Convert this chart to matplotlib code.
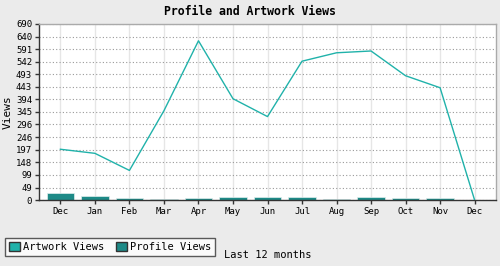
import matplotlib
matplotlib.use("Agg")
import numpy as np
from matplotlib import pyplot as plt
from matplotlib.patches import Patch

months = ["Dec", "Jan", "Feb", "Mar", "Apr", "May", "Jun",
          "Jul", "Aug", "Sep", "Oct", "Nov", "Dec"]
artwork_views = [199, 183, 116, 350, 624, 397, 327, 544, 577, 584, 487, 440, 0]
profile_views = [26, 17, 9, 5, 9, 13, 13, 13, 4, 13, 9, 9, 0]
y_ticks = [0, 49, 99, 148, 197, 246, 296, 345, 394, 443, 493, 542, 591, 640, 690]

line_color = "#20b2aa"
bar_color = "#1e8a87"
bg = "#ebebeb"

plt.rcParams["font.family"] = "DejaVu Sans Mono"

fig = plt.figure(figsize=(5, 2.66), dpi=100, facecolor=bg)
ax = fig.add_axes([0.078, 0.248, 0.914, 0.662])
ax.set_facecolor("white")

x = np.arange(len(months))
ax.bar(x, profile_views, width=0.8, color=bar_color, edgecolor="#e0eeee",
       linewidth=0.5, zorder=2)
ax.plot(x, artwork_views, color=line_color, linewidth=1, zorder=3)

ax.set_xlim(-0.62, len(months) - 0.38)
ax.set_ylim(0, 690)
ax.set_xticks(x)
ax.set_xticklabels(months)
ax.set_yticks(y_ticks)
ax.tick_params(axis="both", labelsize=6.5, length=3, width=1, color="#333333",
               pad=2)
ax.grid(axis="y", linestyle=(0, (1, 2)), color="#999999", linewidth=0.8, zorder=0)
ax.grid(axis="x", linestyle="-", color="#e6e6e6", linewidth=1, zorder=0)
ax.set_axisbelow(True)

for side in ["left", "bottom"]:
    ax.spines[side].set_color("#333333")
    ax.spines[side].set_linewidth(1)
for side in ["top", "right"]:
    ax.spines[side].set_color("#aaaaaa")
    ax.spines[side].set_linewidth(1)

ax.set_ylabel("Views", fontsize=8, labelpad=2)
fig.text(0.5, 0.955, "Profile and Artwork Views", ha="center", va="center",
         fontsize=8.3, fontweight="bold")

handles = [Patch(facecolor=line_color, edgecolor="#333333", label="Artwork Views"),
           Patch(facecolor=bar_color, edgecolor="#333333", label="Profile Views")]
leg = fig.legend(handles=handles, loc="lower left", bbox_to_anchor=(0.01, 0.037),
                 ncol=2, fontsize=7.5, frameon=True, fancybox=False,
                 handlelength=1.0, handleheight=1.0, handletextpad=0.3,
                 columnspacing=1.2, borderpad=0.4, borderaxespad=0)
leg.get_frame().set_edgecolor("#333333")
leg.get_frame().set_linewidth(1)
fig.text(0.448, 0.04, "Last 12 months", ha="left", va="center", fontsize=7.5)

plt.savefig("out.png", dpi=100, facecolor=bg)
